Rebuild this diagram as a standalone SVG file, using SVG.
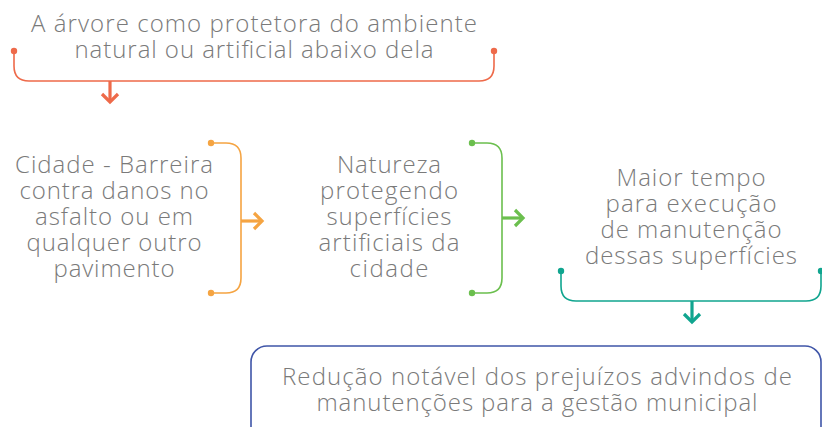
<svg xmlns="http://www.w3.org/2000/svg" width="822" height="427" viewBox="0 0 822 427">
<style>
.t{font-family:"Open Sans","Liberation Sans",sans-serif;font-weight:300;font-size:24px;fill:#7a7a7a;text-anchor:middle}
.br{fill:none;stroke-width:1.6;stroke-linecap:round}
.ar{fill:none;stroke-width:3.2;stroke-linecap:butt;stroke-linejoin:miter}
</style>
<rect width="822" height="427" fill="#ffffff"/>
<g id="node-top">
<text class="t" x="254" y="32" textLength="446" lengthAdjust="spacing">A árvore como protetora do ambiente</text>
<text class="t" x="254" y="58" textLength="359" lengthAdjust="spacing">natural ou artificial abaixo dela</text>
</g>
<g id="node-cidade">
<text class="t" x="114" y="173" textLength="198" lengthAdjust="spacing">Cidade - Barreira</text>
<text class="t" x="114" y="199" textLength="189" lengthAdjust="spacing">contra danos no</text>
<text class="t" x="114" y="225" textLength="158" lengthAdjust="spacing">asfalto ou em</text>
<text class="t" x="114" y="251" textLength="175" lengthAdjust="spacing">qualquer outro</text>
<text class="t" x="114" y="277" textLength="121" lengthAdjust="spacing">pavimento</text>
</g>
<g id="node-natureza">
<text class="t" x="389" y="173" textLength="104" lengthAdjust="spacing">Natureza</text>
<text class="t" x="389" y="199" textLength="138" lengthAdjust="spacing">protegendo</text>
<text class="t" x="389" y="225" textLength="125" lengthAdjust="spacing">superfícies</text>
<text class="t" x="389" y="251" textLength="141" lengthAdjust="spacing">artificiais da</text>
<text class="t" x="389" y="277" textLength="79" lengthAdjust="spacing">cidade</text>
</g>
<g id="node-maior">
<text class="t" x="691" y="186" textLength="149" lengthAdjust="spacing">Maior tempo</text>
<text class="t" x="691" y="212" textLength="171" lengthAdjust="spacing">para execução</text>
<text class="t" x="691" y="238" textLength="181" lengthAdjust="spacing">de manutenção</text>
<text class="t" x="691" y="264" textLength="212" lengthAdjust="spacing">dessas superfícies</text>
</g>
<g id="node-reducao">
<rect x="251" y="346" width="570" height="120" rx="16" fill="none" stroke="#3f55a8" stroke-width="1.6"/>
<text class="t" x="537" y="385" textLength="510" lengthAdjust="spacing">Redução notável dos prejuízos advindos de</text>
<text class="t" x="537" y="411" textLength="441" lengthAdjust="spacing">manutenções para a gestão municipal</text>
</g>
<g id="connectors">
<g stroke="#ee6a4a" fill="#ee6a4a">
<circle cx="14" cy="51" r="3.2" stroke="none"/>
<circle cx="494" cy="51" r="3.2" stroke="none"/>
<path class="br" d="M14 51 V66 Q14 81 29 81 H479 Q494 81 494 66 V51"/>
<path class="ar" d="M110 81 V102"/>
<path class="ar" d="M102 94 L110 102 L118 94"/>
</g>
<g stroke="#f5a442" fill="#f5a442">
<circle cx="211" cy="143" r="3.2" stroke="none"/>
<circle cx="211" cy="293" r="3.2" stroke="none"/>
<path class="br" d="M211 143 H226 Q241 143 241 158 V278 Q241 293 226 293 H211"/>
<path class="ar" d="M241 221 H262"/>
<path class="ar" d="M254 213 L262 221 L254 229"/>
</g>
<g stroke="#6bbf4e" fill="#6bbf4e">
<circle cx="472" cy="143" r="3.2" stroke="none"/>
<circle cx="472" cy="293" r="3.2" stroke="none"/>
<path class="br" d="M472 143 H487 Q502 143 502 158 V278 Q502 293 487 293 H472"/>
<path class="ar" d="M502 218 H523"/>
<path class="ar" d="M515 210 L523 218 L515 226"/>
</g>
<g stroke="#10a58f" fill="#10a58f">
<circle cx="561" cy="271" r="3.2" stroke="none"/>
<circle cx="821" cy="271" r="3.2" stroke="none"/>
<path class="br" d="M561 271 V286 Q561 301 576 301 H806 Q821 301 821 286 V271"/>
<path class="ar" d="M692 301 V322"/>
<path class="ar" d="M684 314 L692 322 L700 314"/>
</g>
</g>
</svg>
